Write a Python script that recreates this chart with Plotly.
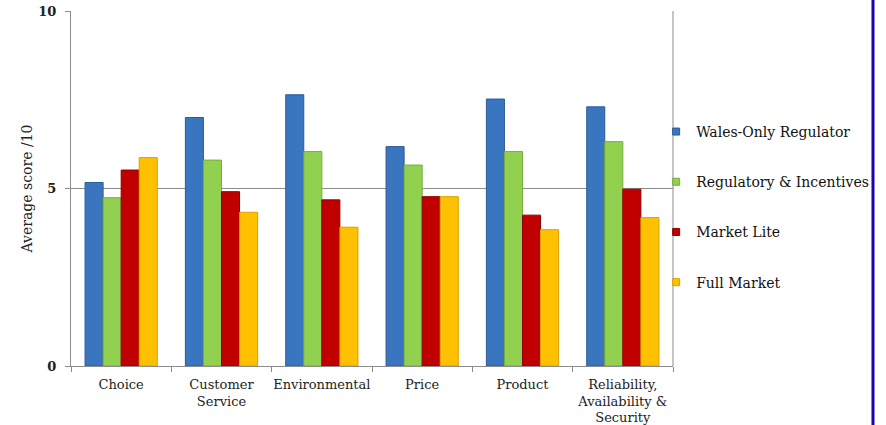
import plotly.graph_objects as go

categories = ["Choice", "Customer<br>Service", "Environmental", "Price", "Product",
              "Reliability,<br>Availability &<br>Security"]
series_names = ["Wales-Only Regulator", "Regulatory & Incentives", "Market Lite", "Full Market"]
wales_only = [5.17, 7.00, 7.64, 6.18, 7.52, 7.30]
regulatory = [4.74, 5.80, 6.04, 5.66, 6.04, 6.32]
market_lite = [5.52, 4.91, 4.68, 4.77, 4.25, 4.98]
full_market = [5.87, 4.33, 3.91, 4.77, 3.84, 4.18]
colors = ["#3A75C0", "#92D050", "#C00000", "#FFC000"]
edge = ["#2C5C96", "#76AD3C", "#8F0000", "#D9A000"]

fig = go.Figure()
for i, (name, vals) in enumerate(zip(series_names, [wales_only, regulatory, market_lite, full_market])):
    fig.add_trace(go.Bar(
        x=categories, y=vals, name=name, legendgroup=str(i), showlegend=False,
        marker=dict(color=colors[i], line=dict(color=edge[i], width=1)),
    ))
# legend entries with small square symbols
for i, name in enumerate(series_names):
    fig.add_trace(go.Scatter(
        x=[None], y=[None], mode="markers", name=name, legendgroup=str(i),
        marker=dict(symbol="square", size=7, color=colors[i], line=dict(color=edge[i], width=1)),
    ))

serif = "DejaVu Serif"
fig.update_layout(
    width=886, height=425,
    margin=dict(l=71, r=213, t=11, b=59, autoexpand=False),
    paper_bgcolor="white", plot_bgcolor="white",
    barmode="group", bargap=0.28, bargroupgap=0,
    font=dict(family=serif, size=13, color="#222222"),
    showlegend=True,
    legend=dict(x=0.972, y=0.448, xanchor="left", yanchor="middle",
                font=dict(family=serif, size=14, color="#111111"),
                tracegroupgap=29, itemwidth=30, bgcolor="rgba(0,0,0,0)"),
    xaxis=dict(showline=True, linecolor="#8C8C8C", linewidth=1, mirror=False,
               ticks="outside", tickson="boundaries", ticklen=5, tickcolor="#8C8C8C",
               ticklabelstandoff=6, automargin=False, tickangle=0,
               tickfont=dict(family=serif, size=13, color="#222222")),
    yaxis=dict(range=[0, 10], tickvals=[0, 5, 10], ticktext=["<b>0</b>", "<b>5</b>", "<b>10</b>"],
               showgrid=True, gridcolor="#8C8C8C", gridwidth=1,
               showline=True, linecolor="#8C8C8C", linewidth=1,
               ticks="outside", ticklen=5, tickcolor="#8C8C8C",
               ticklabelstandoff=6, automargin=False,
               tickfont=dict(family=serif, size=13, color="#222222"),
               zeroline=False,
               title=dict(text="Average score /10", standoff=2,
                          font=dict(family=serif, size=14, color="#222222"))),
)
# right border of plot area
fig.add_shape(type="line", xref="paper", yref="paper", x0=1, x1=1, y0=0, y1=1,
              line=dict(color="#8C8C8C", width=1))
# blue frame line at right edge
fig.add_shape(type="line", xref="paper", yref="paper", x0=1.3322, x1=1.3322, y0=1.04, y1=-0.17,
              line=dict(color="#2200AA", width=3))
fig.write_html("out.html")
